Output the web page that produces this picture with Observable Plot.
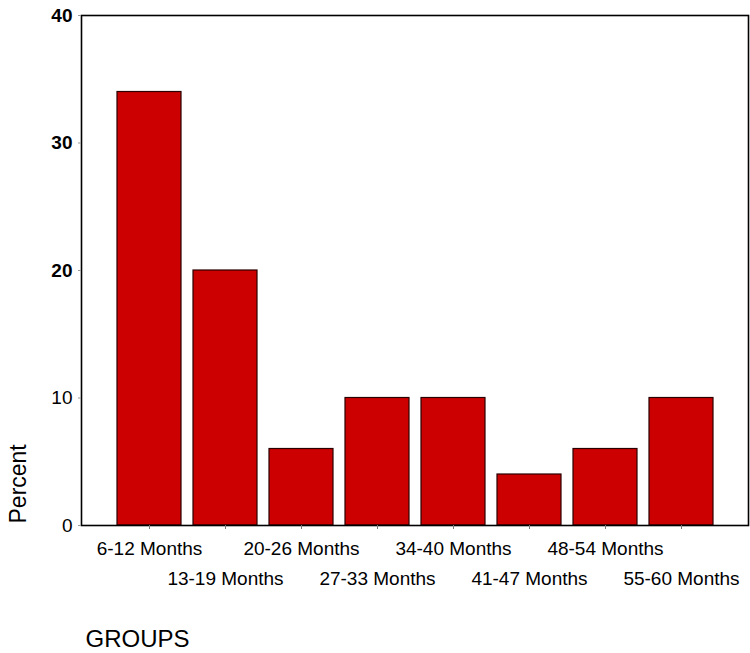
<!DOCTYPE html>
<html>
<head>
<meta charset="utf-8">
<script src="https://cdn.jsdelivr.net/npm/d3@7"></script>
<script src="https://cdn.jsdelivr.net/npm/@observablehq/plot@0.6"></script>
<style>
  html, body { margin: 0; padding: 0; background: #fff; }
  svg { font-family: "Liberation Sans", Arial, sans-serif; }
</style>
</head>
<body>
<div id="chart"></div>
<script>
const groups = ["6-12 Months", "13-19 Months", "20-26 Months", "27-33 Months",
                "34-40 Months", "41-47 Months", "48-54 Months", "55-60 Months"];
const percents = [34, 20, 6, 10, 10, 4, 6, 10];
const yTicksBold = [20, 30, 40];
const yTicksRegular = [0, 10];
const yLabel = "Percent";
const xLabel = "GROUPS";

const data = groups.map((g, i) => ({group: g, percent: percents[i]}));
const rowA = groups.filter((d, i) => i % 2 === 0);
const rowB = groups.filter((d, i) => i % 2 === 1);

const chart = Plot.plot({
  width: 750,
  height: 653,
  marginTop: 15,
  marginBottom: 128,
  marginLeft: 81,
  marginRight: 2,
  style: {fontFamily: "'Liberation Sans', Arial, sans-serif", background: "#fff"},
  x: {domain: groups, paddingInner: 0.16, paddingOuter: 0.445, axis: null},
  y: {domain: [0, 40], axis: null},
  marks: [
    Plot.barY(data, {x: "group", y: "percent", fill: "#cc0000", stroke: "#2a0000", strokeWidth: 1.2}),
    Plot.frame({stroke: "#000", strokeWidth: 1.6}),
    Plot.axisX(groups, {tickSize: 4, stroke: "#777", tickFormat: () => "", label: null}),
    Plot.axisX(rowA, {tickSize: 0, tickPadding: 16, fontSize: 19, fill: "#000", label: null, style: {letterSpacing: "0.6px"}}),
    Plot.axisX(rowB, {tickSize: 0, tickPadding: 46, fontSize: 19, fill: "#000", label: null, style: {letterSpacing: "0.6px"}}),
    Plot.axisY(yTicksBold, {tickSize: 3, tickPadding: 6, stroke: "#999", fontSize: 19, fontWeight: "bold", fill: "#000", label: null}),
    Plot.axisY(yTicksRegular, {tickSize: 3, tickPadding: 6, stroke: "#999", fontSize: 19, fill: "#000", label: null}),
    Plot.text([yLabel], {frameAnchor: "bottom-left", text: d => d, rotate: -90, textAnchor: "start",
      lineAnchor: "middle", dx: -63, dy: -2, fontSize: 23, fill: "#000", style: {letterSpacing: "2.5px"}}),
    Plot.text([xLabel], {frameAnchor: "bottom-left", text: d => d, textAnchor: "start",
      lineAnchor: "middle", dx: 4, dy: 121 - 0.32 * 24, fontSize: 24, fill: "#000", style: {letterSpacing: "2.5px"}})
  ]
});
document.getElementById("chart").appendChild(chart);
</script>
</body>
</html>
